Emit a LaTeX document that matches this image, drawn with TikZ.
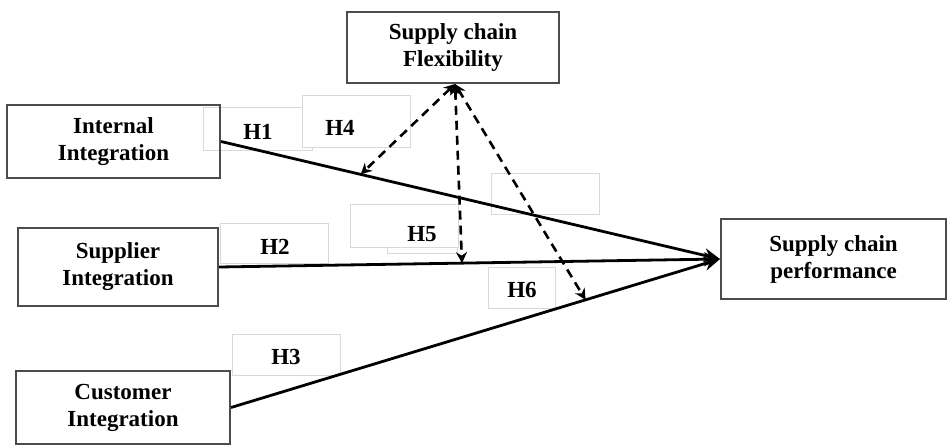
\documentclass[tikz,border=0pt]{standalone}
\usepackage{fontspec}
\setmainfont{Liberation Serif}
\usetikzlibrary{arrows.meta}

\begin{document}
\begin{tikzpicture}[x=0.5pt, y=-0.5pt,
    every node/.style={font=\bfseries\fontsize{11.5}{13.5}\selectfont, align=center},
    block/.style={draw=black!70, line width=1pt, inner sep=0pt},
    lblbox/.style={draw=black!15, fill=white, line width=0.4pt},
    link/.style={line width=1.4pt, -{Stealth[length=8pt,width=7pt]}},
    mod/.style={line width=1.3pt, dash pattern=on 4.5pt off 3pt,
        {Stealth[length=5.5pt,width=5.5pt]}-{Stealth[length=5.5pt,width=5.5pt]}}]
    \useasboundingbox (0,0) rectangle (947,445);

    % faint label boxes
    \draw[lblbox] (203,107) rectangle (312,150);
    \draw[lblbox] (302,95) rectangle (410,147);
    \draw[lblbox] (491,173) rectangle (599,214);
    \draw[lblbox] (387,215) rectangle (457,253);
    \draw[lblbox] (350,204) rectangle (458,247);
    \draw[lblbox] (220,223) rectangle (328,263);
    \draw[lblbox] (488,267) rectangle (555,308);
    \draw[lblbox] (232,334) rectangle (340,375);

    \node[block, minimum width=106.5pt, minimum height=36.5pt] (intl) at (113.5,141.5) {Internal\\Integration};
    \node[block, minimum width=100pt, minimum height=39pt] (supl) at (118,267) {Supplier\\Integration};
    \node[block, minimum width=107pt, minimum height=36.5pt] (cust) at (123,407.5) {Customer\\Integration};
    \node[block, minimum width=106pt, minimum height=35.5pt] (flex) at (453,47.5) {Supply chain\\Flexibility};
    \node[block, minimum width=112.5pt, minimum height=40pt] (perf) at (833.5,259) {Supply chain\\performance};

    \node (h1) at (258,132) {H1};
    \node (h2) at (275,247) {H2};
    \node (h3) at (286,357) {H3};
    \node (h4) at (340,128) {H4};
    \node (h5) at (422,234) {H5};
    \node (h6) at (522,290) {H6};

    \draw[link] (intl.east) -- (perf.west) coordinate[pos=0.28] (m4);
    \draw[link] (supl.east) -- (perf.west) coordinate[pos=0.485] (m5);
    \draw[link] (cust.east) -- (perf.west) coordinate[pos=0.725] (m6);

    \draw[mod] ([xshift=1pt]flex.south) -- (m4);
    \draw[mod] ([xshift=1pt]flex.south) -- (m5);
    \draw[mod] ([xshift=1pt]flex.south) -- (m6);
\end{tikzpicture}
\end{document}
